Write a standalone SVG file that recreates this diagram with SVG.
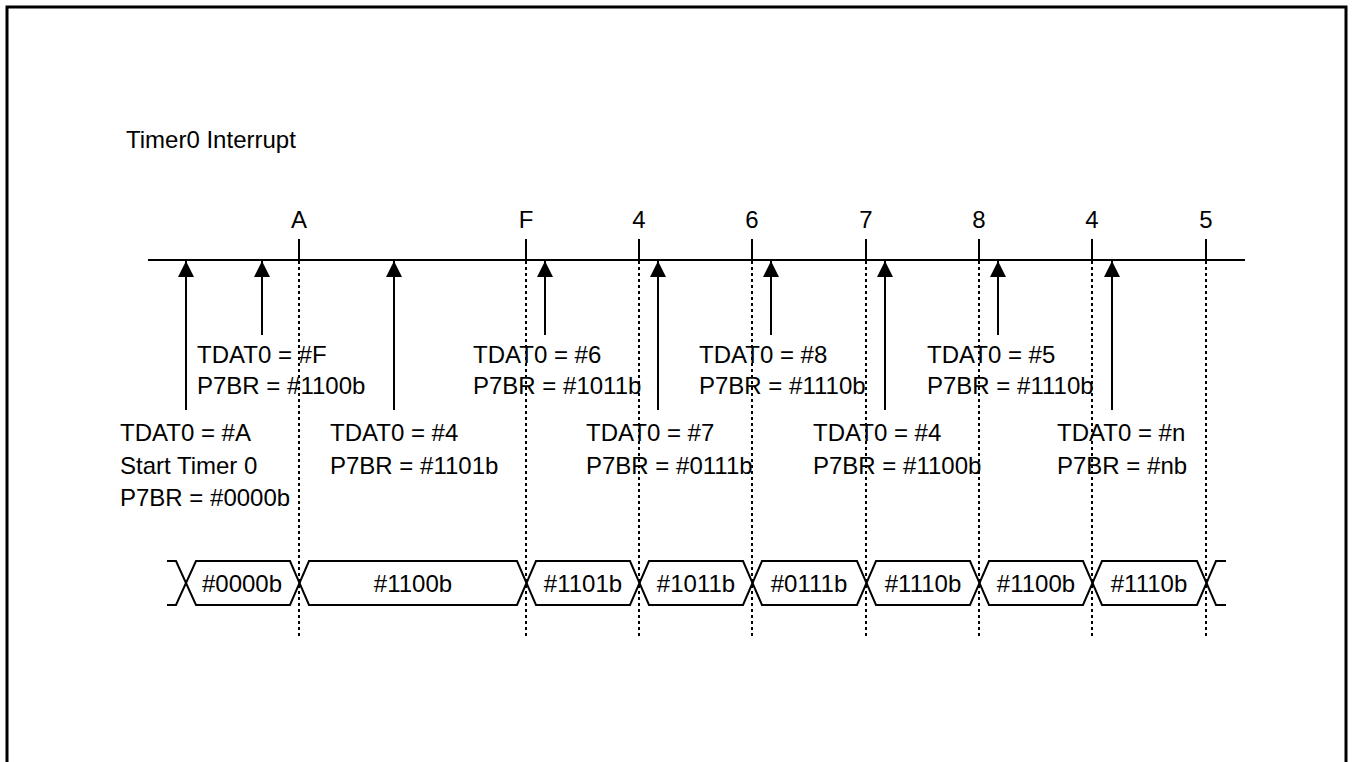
<svg xmlns="http://www.w3.org/2000/svg" width="1353" height="762" viewBox="0 0 1353 762">
<style>
text{font-family:"Liberation Sans",Arial,sans-serif;font-size:24px;fill:#000}
.mid{text-anchor:middle}
.ln{stroke:#000;stroke-width:2;fill:none}
.dot{stroke:#000;stroke-width:2;stroke-dasharray:3,3;fill:none}
.bus{stroke:#000;stroke-width:2;fill:none;stroke-linejoin:miter}
</style>
<defs>
<marker id="ah" viewBox="0 0 16 16" refX="16" refY="8" markerWidth="16" markerHeight="16" markerUnits="userSpaceOnUse" orient="auto">
<path d="M0,0 L16,8 L0,16 Z" fill="#000"/>
</marker>
</defs>
<rect width="1353" height="762" fill="#fff"/>
<path d="M7,770 V7 H1346 V770" stroke="#000" stroke-width="3" fill="none"/>
<text id="title" x="126" y="148">Timer0 Interrupt</text>

<g id="axis">
<line class="ln" x1="148" y1="260" x2="1245" y2="260"/>
</g>

<g id="ticks">
<g id="tA"><line class="ln" x1="299" y1="239" x2="299" y2="260"/><line class="dot" x1="299" y1="261" x2="299" y2="637"/><text class="mid" x="299" y="228">A</text></g>
<g id="tF"><line class="ln" x1="526" y1="239" x2="526" y2="260"/><line class="dot" x1="526" y1="261" x2="526" y2="637"/><text class="mid" x="526" y="228">F</text></g>
<g id="t4a"><line class="ln" x1="639" y1="239" x2="639" y2="260"/><line class="dot" x1="639" y1="261" x2="639" y2="637"/><text class="mid" x="639" y="228">4</text></g>
<g id="t6"><line class="ln" x1="752" y1="239" x2="752" y2="260"/><line class="dot" x1="752" y1="261" x2="752" y2="637"/><text class="mid" x="752" y="228">6</text></g>
<g id="t7"><line class="ln" x1="866" y1="239" x2="866" y2="260"/><line class="dot" x1="866" y1="261" x2="866" y2="637"/><text class="mid" x="866" y="228">7</text></g>
<g id="t8"><line class="ln" x1="979" y1="239" x2="979" y2="260"/><line class="dot" x1="979" y1="261" x2="979" y2="637"/><text class="mid" x="979" y="228">8</text></g>
<g id="t4b"><line class="ln" x1="1092" y1="239" x2="1092" y2="260"/><line class="dot" x1="1092" y1="261" x2="1092" y2="637"/><text class="mid" x="1092" y="228">4</text></g>
<g id="t5"><line class="ln" x1="1206" y1="239" x2="1206" y2="260"/><line class="dot" x1="1206" y1="261" x2="1206" y2="637"/><text class="mid" x="1206" y="228">5</text></g>
</g>

<g id="connectors">
<line class="ln" x1="186" y1="410" x2="186" y2="261" marker-end="url(#ah)"/>
<line class="ln" x1="262" y1="335" x2="262" y2="261" marker-end="url(#ah)"/>
<line class="ln" x1="394" y1="410" x2="394" y2="261" marker-end="url(#ah)"/>
<line class="ln" x1="545" y1="335" x2="545" y2="261" marker-end="url(#ah)"/>
<line class="ln" x1="658" y1="410" x2="658" y2="261" marker-end="url(#ah)"/>
<line class="ln" x1="771" y1="335" x2="771" y2="261" marker-end="url(#ah)"/>
<line class="ln" x1="885" y1="410" x2="885" y2="261" marker-end="url(#ah)"/>
<line class="ln" x1="998" y1="335" x2="998" y2="261" marker-end="url(#ah)"/>
<line class="ln" x1="1112" y1="410" x2="1112" y2="261" marker-end="url(#ah)"/>
</g>

<g id="n1"><text x="120" y="441">TDAT0 = #A</text><text x="120" y="474">Start Timer 0</text><text x="120" y="506">P7BR = #0000b</text></g>
<g id="n2"><text x="197" y="363">TDAT0 = #F</text><text x="197" y="394">P7BR = #1100b</text></g>
<g id="n3"><text x="330" y="441">TDAT0 = #4</text><text x="330" y="474">P7BR = #1101b</text></g>
<g id="n4"><text x="473" y="363">TDAT0 = #6</text><text x="473" y="394">P7BR = #1011b</text></g>
<g id="n5"><text x="586" y="441">TDAT0 = #7</text><text x="586" y="474">P7BR = #0111b</text></g>
<g id="n6"><text x="699" y="363">TDAT0 = #8</text><text x="699" y="394">P7BR = #1110b</text></g>
<g id="n7"><text x="813" y="441">TDAT0 = #4</text><text x="813" y="474">P7BR = #1100b</text></g>
<g id="n8"><text x="927" y="363">TDAT0 = #5</text><text x="927" y="394">P7BR = #1110b</text></g>
<g id="n9"><text x="1057" y="441">TDAT0 = #n</text><text x="1057" y="474">P7BR = #nb</text></g>

<g id="bus">
<path class="bus" d="M167,561 H176 L196,605 H290 L309,561 H517 L536,605 H630 L649,561 H743 L762,605 H857 L876,561 H970 L989,605 H1083 L1102,561 H1197 L1216,605 H1226"/>
<path class="bus" d="M167,605 H176 L196,561 H290 L309,605 H517 L536,561 H630 L649,605 H743 L762,561 H857 L876,605 H970 L989,561 H1083 L1102,605 H1197 L1216,561 H1226"/>
<text class="mid" x="242" y="592">#0000b</text>
<text class="mid" x="413" y="592">#1100b</text>
<text class="mid" x="583" y="592">#1101b</text>
<text class="mid" x="696" y="592">#1011b</text>
<text class="mid" x="809" y="592">#0111b</text>
<text class="mid" x="923" y="592">#1110b</text>
<text class="mid" x="1036" y="592">#1100b</text>
<text class="mid" x="1149" y="592">#1110b</text>
</g>
</svg>
